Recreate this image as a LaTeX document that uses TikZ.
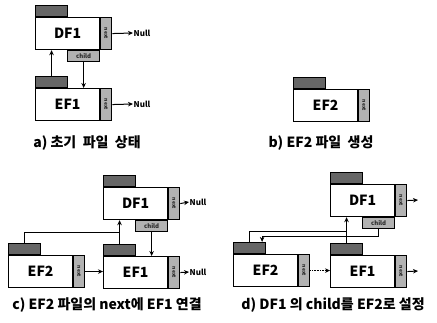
\documentclass[tikz,border=0pt]{standalone}
\usepackage{fontspec}
\setmainfont{Noto Sans CJK KR}
\usetikzlibrary{arrows.meta,calc}
\tikzset{
  mainbox/.style={draw, line width=1.2pt, fill=white, minimum width=64pt, minimum height=32pt, inner sep=0pt, font=\bfseries\fontsize{14}{14}\selectfont},
  nextbox/.style={draw, line width=1.1pt, fill=black!30, minimum width=11pt, minimum height=32pt, inner sep=0pt, font=\bfseries\fontsize{5}{5}\selectfont, text=black!85},
  tabbox/.style={draw, line width=1.1pt, fill=black!60, minimum width=32pt, minimum height=11pt, inner sep=0pt},
  childbox/.style={draw, line width=1.1pt, fill=black!30, minimum width=32pt, minimum height=11pt, inner sep=0pt, font=\bfseries\fontsize{6}{6}\selectfont, text=black!85},
  conn/.style={line width=1pt, -{Stealth[length=5pt,width=4.5pt]}},
  plain/.style={line width=1pt},
  nulltxt/.style={inner sep=0.5pt, anchor=west, font=\bfseries\fontsize{8}{8}\selectfont},
  caption/.style={font=\bfseries\fontsize{14}{14}\selectfont, inner sep=0pt}
}
\newcommand\fbx[4]{%
  \node[mainbox, anchor=north west] (#1) at (#2,#3) {#4};
  \node[nextbox, anchor=north west] (#1-n) at (#1.north east) {\rotatebox{-90}{next}};
  \node[tabbox, anchor=south west] (#1-t) at (#1.north west) {};
}
\newcommand\chbx[1]{%
  \node[childbox, anchor=north east] (#1-c) at (#1.south east) {child};
}
\begin{document}
\begin{tikzpicture}[x=1pt,y=-1pt]
\useasboundingbox[fill=white] (0,0) rectangle (437,322);
% ---------- panel a
\fbx{dfa}{35}{17}{DF1}
\chbx{dfa}
\fbx{efa}{35}{88}{EF1}
\node[nulltxt] (na1) at (133,33) {Null};
\node[nulltxt] (na2) at (133,104) {Null};
\draw[conn] (dfa-n.east) -- (na1.west);
\draw[conn] (efa-n.east) -- (na2.west);
\draw[conn] (efa-t.north) -- (efa-t.north |- dfa.south);
\draw[conn] (dfa-c.south) -- (dfa-c.south |- efa.north);
\node[caption] (capa) at (87,143) {a)\ 초기\ \ 파일\ \ 상태};
% ---------- panel b
\fbx{efb}{293}{89}{EF2}
\node[caption] (capb) at (321,143) {b)\ EF2\ 파일\ \ 생성};
% ---------- panel c
\fbx{dfc}{103}{187}{DF1}
\chbx{dfc}
\fbx{eftc}{8}{255}{EF2}
\fbx{efoc}{103}{256}{EF1}
\node[nulltxt] (nc1) at (189,202) {Null};
\node[nulltxt] (nc2) at (189,272) {Null};
\draw[conn] (dfc-n.east) -- (nc1.west);
\draw[conn] (efoc-n.east) -- (nc2.west);
\coordinate (jc) at (efoc-t.north |- 0,232);
\draw[plain] (eftc-t.north) |- (jc);
\draw[conn] (efoc-t.north) -- (efoc-t.north |- dfc.south);
\draw[conn] (dfc-c.south) -- (dfc-c.south |- efoc.north);
\draw[conn] (eftc-n.east) -- (eftc-n.east -| efoc.west);
\node[caption] (capc) at (107,305) {c) EF2 파일의 next에 EF1 연결};
% ---------- panel d
\fbx{dfd}{330}{184}{DF1}
\chbx{dfd}
\fbx{eftd}{233}{254}{EF2}
\fbx{efod}{330}{255}{EF1}
\coordinate (nd1) at (418,200);
\coordinate (nd2) at (418,271);
\draw[conn] (dfd-n.east) -- (nd1);
\draw[conn] (efod-n.east) -- (nd2);
\coordinate (jd) at (efod-t.north |- 0,231);
\draw[plain] (eftd-t.north) |- (jd);
\draw[conn] (efod-t.north) -- (efod-t.north |- dfd.south);
\coordinate (kd) at ($(eftd-t.north east)+(-4,0)$);
\draw[conn] (dfd-c.south) |- (kd |- 0,236) -- (kd);
\draw[conn, line width=0.6pt, densely dotted] (eftd-n.east) -- (eftd-n.east -| efod.west);
\node[caption] (capd) at (333,305) {d) DF1 의 child를 EF2로 설정};
\end{tikzpicture}
\end{document}
